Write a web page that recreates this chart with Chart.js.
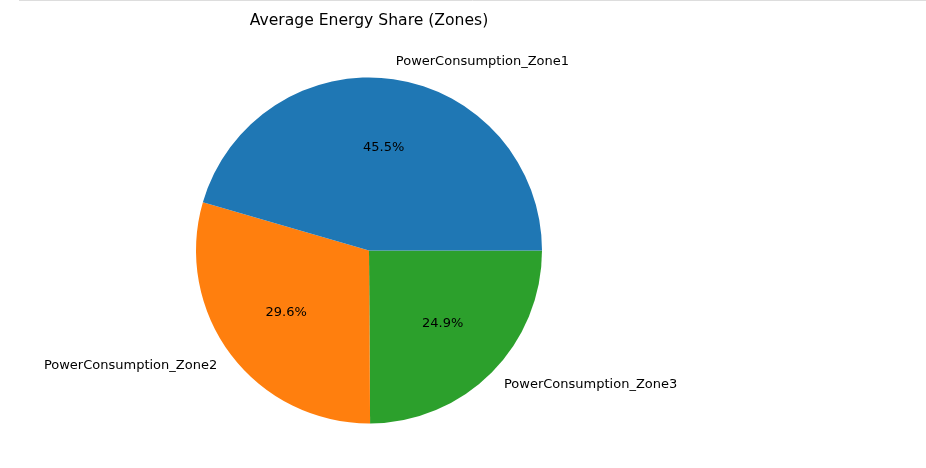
<!DOCTYPE html>
<html>
<head>
<meta charset="utf-8">
<script src="https://cdn.jsdelivr.net/npm/chart.js@4.4.1/dist/chart.umd.min.js"></script>
<style>
  html, body { margin: 0; padding: 0; background: #fff; }
  #wrap { width: 926px; height: 468px; position: relative; }
</style>
</head>
<body>
<div id="wrap"><canvas id="chart" width="926" height="468"></canvas></div>
<script>
// Data
const zoneLabels = ['PowerConsumption_Zone1', 'PowerConsumption_Zone2', 'PowerConsumption_Zone3'];
const zoneShares = [45.5, 29.6, 24.9];
const zoneColors = ['#1f77b4', '#ff7f0e', '#2ca02c'];
const chartTitle = 'Average Energy Share (Zones)';

const FONT = '"DejaVu Sans", sans-serif';

// matplotlib draws counter-clockwise from 3 o'clock; Chart.js goes clockwise,
// so feed the slices in reverse and start at 90 degrees
const labelsRev = [...zoneLabels].reverse();
const sharesRev = [...zoneShares].reverse();
const colorsRev = [...zoneColors].reverse();

// labels at 1.1 r, percentages at 0.6 r, like matplotlib's pie()
const pieText = {
  id: 'pieText',
  afterDatasetsDraw(chart) {
    const ctx = chart.ctx;
    const meta = chart.getDatasetMeta(0);
    const total = sharesRev.reduce((a, b) => a + b, 0);
    ctx.save();
    ctx.fillStyle = '#000';
    ctx.font = '13px ' + FONT;
    ctx.textBaseline = 'middle';
    meta.data.forEach((arc, i) => {
      const mid = (arc.startAngle + arc.endAngle) / 2;
      const r = arc.outerRadius;
      const cx = arc.x, cy = arc.y;
      const lx = cx + Math.cos(mid) * r * 1.1;
      const ly = cy + Math.sin(mid) * r * 1.1;
      ctx.textAlign = Math.cos(mid) >= 0 ? 'left' : 'right';
      ctx.fillText(labelsRev[i], lx, ly);
      const px = cx + Math.cos(mid) * r * 0.6;
      const py = cy + Math.sin(mid) * r * 0.6;
      ctx.textAlign = 'center';
      ctx.fillText((sharesRev[i] / total * 100).toFixed(1) + '%', px, py);
    });
    // title
    ctx.font = '15.6px ' + FONT;
    ctx.textAlign = 'center';
    ctx.fillText(chartTitle, meta.data[0].x, 21);
    // thin frame line at the very top
    ctx.strokeStyle = '#dddddd';
    ctx.lineWidth = 1;
    ctx.beginPath();
    ctx.moveTo(19, 0.5);
    ctx.lineTo(926, 0.5);
    ctx.stroke();
    ctx.restore();
  }
};

new Chart(document.getElementById('chart'), {
  type: 'pie',
  data: {
    labels: labelsRev,
    datasets: [{
      data: sharesRev,
      backgroundColor: colorsRev,
      borderWidth: 0
    }]
  },
  options: {
    responsive: false,
    animation: false,
    rotation: 90,
    layout: { padding: { left: 196, right: 384, top: 77, bottom: 44 } },
    plugins: {
      legend: { display: false },
      tooltip: { enabled: false },
      title: { display: false }
    }
  },
  plugins: [pieText]
});
</script>
</body>
</html>
